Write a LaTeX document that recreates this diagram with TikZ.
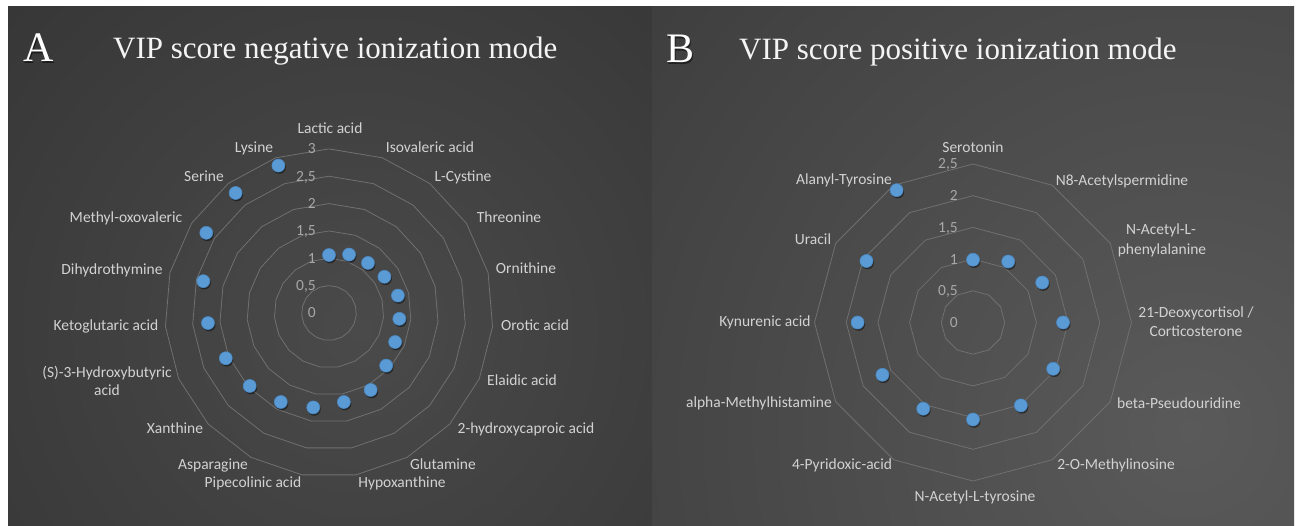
\documentclass[tikz,border=0pt]{standalone}
\usepackage{fontspec}
\setmainfont{Liberation Serif}
\newfontfamily\labfont{Carlito}
\definecolor{labgrey}{HTML}{D2D2D2}
\definecolor{tickgrey}{HTML}{A8A8A8}
\definecolor{ringgrey}{HTML}{707070}
\definecolor{dotblue}{HTML}{5B9BD5}
\definecolor{dotedge}{HTML}{4A88C2}
\definecolor{titlewhite}{HTML}{F4F4F4}
\definecolor{bgAin}{HTML}{4A4A4A}
\definecolor{bgAout}{HTML}{262626}
\definecolor{bgBin}{HTML}{5A5A5A}
\definecolor{bgBout}{HTML}{2A2A2A}
\tikzset{
  lab/.style={anchor=base, inner sep=0pt, text=labgrey, font=\labfont\fontsize{15.5}{19}\selectfont},
  tick/.style={anchor=base east, inner sep=0pt, text=tickgrey, font=\labfont\fontsize{15.5}{19}\selectfont},
  ring/.style={draw=ringgrey, line width=0.8pt, line join=round},
  dot/.style={circle, fill=dotblue, draw=dotedge, line width=0.6pt, minimum size=13pt, inner sep=0pt},
  dotshadow/.style={circle, fill=black, fill opacity=0.45, minimum size=13pt, inner sep=0pt},
  title/.style={anchor=base west, inner sep=0pt, text=titlewhite, font=\fontsize{31}{36}\selectfont},
  letter/.style={anchor=base west, inner sep=0pt, text=white, font=\fontsize{42}{48}\selectfont},
  lettershadow/.style={anchor=base west, inner sep=0pt, text=black, text opacity=0.5, font=\fontsize{42}{48}\selectfont},
}
\begin{document}
\begin{tikzpicture}[x=1pt,y=-1pt]
\useasboundingbox (0,0) rectangle (1299,526);
\fill[white] (0,0) rectangle (1299,526);
% panel A background
\begin{scope}
  \clip (8,7) rectangle (652,526);
  \fill[bgAout] (8,7) rectangle (652,526);
  \shade[inner color=bgAin, outer color=bgAout] (360,330) circle (900pt);
\end{scope}
% panel B background
\begin{scope}
  \clip (652,7) rectangle (1294,526);
  \fill[bgBout] (652,7) rectangle (1294,526);
  \shade[inner color=bgBin, outer color=bgBout] (1190,430) circle (1200pt);
\end{scope}

% titles
\node[lettershadow] (tAs) at (24.5,63.5) {A};
\node[letter] (tA) at (23,62) {A};
\node[title] (ttA) at (113,59) {VIP score negative ionization mode};
\node[lettershadow] (tBs) at (667.5,64.5) {B};
\node[letter] (tB) at (666,63) {B};
\node[title] (ttB) at (739,60) {VIP score positive ionization mode};

% ---------------- Panel A ----------------
\foreach \k in {1,...,6} {
  \draw[ring] (329,{313-\k*27.35})
    \foreach \i in {1,...,18} { -- ({329+\k*27.35*sin(\i*360/19)},{313-\k*27.35*cos(\i*360/19)}) } -- cycle;
}
\foreach \t [count=\k from 0] in {0,{0,5},1,{1,5},2,{2,5},3} {
  \node[tick] (kA\k) at (316,{313-\k*27.35+5}) {\t};
}
\foreach \v [count=\i from 0] in {1.06,1.13,1.16,1.21,1.30,1.29,1.32,1.42,1.60,1.65,1.75,1.85,1.97,2.06,2.22,2.37,2.68,2.78,2.85} {
  \coordinate (pA\i) at ({329+54.7*\v*sin(\i*360/19)},{313-54.7*\v*cos(\i*360/19)});
}
\foreach \i in {0,...,18} {
  \node[dotshadow] (sA\i) at ([shift={(1,1.8)}]pA\i) {};
  \node[dot] (dA\i) at (pA\i) {};
}
\node[lab] (lA1) at (330,134) {Lactic acid};
\node[lab] (lA2) at (430,153) {Isovaleric acid};
\node[lab] (lA3) at (463,182) {L-Cystine};
\node[lab] (lA4) at (509,223) {Threonine};
\node[lab] (lA5) at (526,274) {Ornithine};
\node[lab] (lA6) at (535,331) {Orotic acid};
\node[lab] (lA7) at (522,386) {Elaidic acid};
\node[lab] (lA8) at (526,434) {2-hydroxycaproic acid};
\node[lab] (lA9) at (443,469) {Glutamine};
\node[lab] (lA10) at (402,487) {Hypoxanthine};
\node[lab] (lA11) at (253,487) {Pipecolinic acid};
\node[lab] (lA12) at (213,469) {Asparagine};
\node[lab] (lA13) at (175,434) {Xanthine};
\node[lab] (lA14a) at (107,378) {(S)-3-Hydroxybutyric};
\node[lab] (lA14b) at (107,396) {acid};
\node[lab] (lA15) at (106,331) {Ketoglutaric acid};
\node[lab] (lA16) at (112,275) {Dihydrothymine};
\node[lab] (lA17) at (126,223) {Methyl-oxovaleric};
\node[lab] (lA18) at (204,182) {Serine};
\node[lab] (lA19) at (254,153) {Lysine};

% ---------------- Panel B ----------------
\foreach \k in {1,...,5} {
  \draw[ring] (973,{322.5-\k*31.7})
    \foreach \i in {1,...,11} { -- ({973+\k*31.7*sin(\i*30)},{322.5-\k*31.7*cos(\i*30)}) } -- cycle;
}
\foreach \t [count=\k from 0] in {0,{0,5},1,{1,5},2,{2,5}} {
  \node[tick] (kB\k) at (958,{322.5-\k*31.7+5}) {\t};
}
\foreach \v [count=\i from 0] in {0.99,1.11,1.26,1.42,1.46,1.51,1.53,1.57,1.65,1.82,1.94,2.41} {
  \coordinate (pB\i) at ({973+63.4*\v*sin(\i*30)},{322.5-63.4*\v*cos(\i*30)});
}
\foreach \i in {0,...,11} {
  \node[dotshadow] (sB\i) at ([shift={(1,1.8)}]pB\i) {};
  \node[dot] (dB\i) at (pB\i) {};
}
\node[lab] (lB1) at (973,153) {Serotonin};
\node[lab] (lB2) at (1122,186) {N8-Acetylspermidine};
\node[lab] (lB3a) at (1161,235) {N-Acetyl-L-};
\node[lab] (lB3b) at (1162,255) {phenylalanine};
\node[lab] (lB4a) at (1196,318) {21-Deoxycortisol /};
\node[lab] (lB4b) at (1196,337) {Corticosterone};
\node[lab] (lB5) at (1179,409) {beta-Pseudouridine};
\node[lab] (lB6) at (1116,469) {2-O-Methylinosine};
\node[lab] (lB7) at (975,501) {N-Acetyl-L-tyrosine};
\node[lab] (lB8) at (842,469) {4-Pyridoxic-acid};
\node[lab] (lB9) at (759,408) {alpha-Methylhistamine};
\node[lab] (lB10) at (765,327) {Kynurenic acid};
\node[lab] (lB11) at (813,245) {Uracil};
\node[lab] (lB12) at (844,185) {Alanyl-Tyrosine};
\end{tikzpicture}
\end{document}
